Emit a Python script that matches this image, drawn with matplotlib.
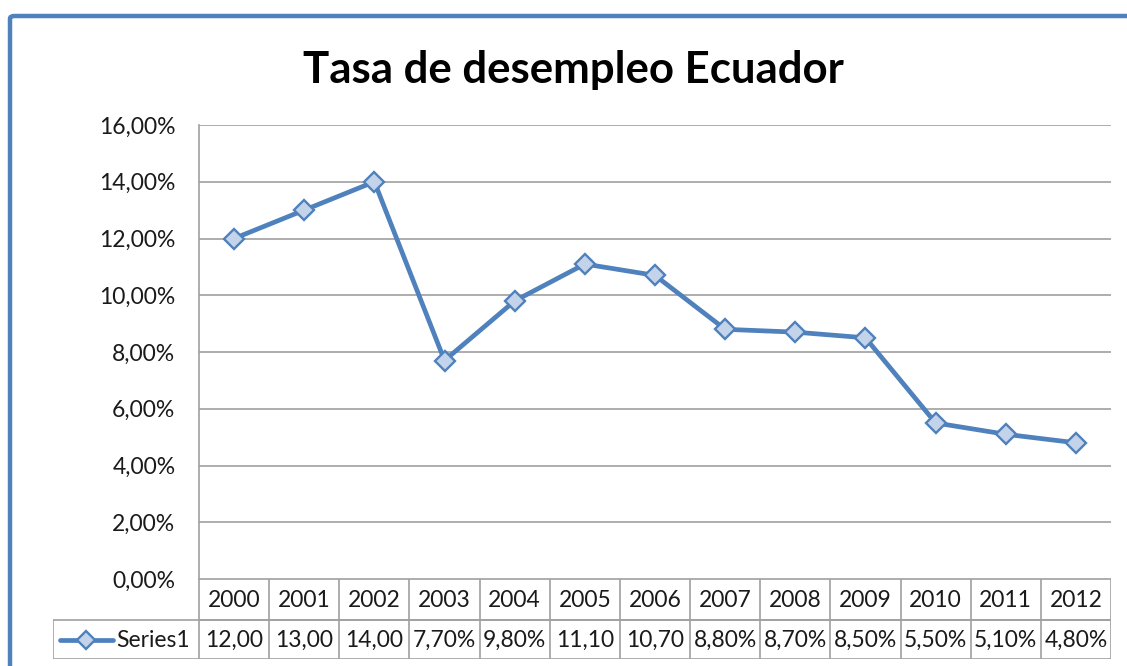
import matplotlib.pyplot as plt
import numpy as np
from matplotlib.patches import FancyBboxPatch

plt.rcParams['font.family'] = ['Lato', 'DejaVu Sans']

# unemployment rate, Ecuador (percent)
years = ['2000', '2001', '2002', '2003', '2004', '2005', '2006',
         '2007', '2008', '2009', '2010', '2011', '2012']
rate = [12.0, 13.0, 14.0, 7.7, 9.8, 11.1, 10.7, 8.8, 8.7, 8.5, 5.5, 5.1, 4.8]
series_name = 'Series1'
yticks = [0, 2, 4, 6, 8, 10, 12, 14, 16]

blue = '#4F81BD'
grid = '#A0A0A0'
txt = '#1A1A1A'
fs = 16.5
W, H = 1127, 666

fig = plt.figure(figsize=(W / 100, H / 100), dpi=100)

# blue outer frame of the chart (runs off the right and bottom edges)
frame = FancyBboxPatch((10 / W, -0.1), 1.2, (H - 16) / H + 0.1,
                       boxstyle='round,pad=0,rounding_size=0.004',
                       transform=fig.transFigure, fill=False,
                       edgecolor=blue, linewidth=3.2, zorder=0)
fig.patches.append(frame)

# plot area in pixels
px_left, px_right, px_top, px_bottom = 199, 1111, 125, 579
ax = fig.add_axes([px_left / W, 1 - px_bottom / H,
                   (px_right - px_left) / W, (px_bottom - px_top) / H])

x = np.arange(len(years))
ax.plot(x, rate, color=blue, linewidth=3.4, marker='D', markersize=10,
        markerfacecolor='#C3D3EA', markeredgecolor=blue, markeredgewidth=1.7,
        zorder=3)

ax.set_xlim(-0.5, len(years) - 0.5)
ax.set_ylim(0, 16)
ax.set_yticks(yticks)
ax.set_yticklabels([f'{v:.2f}%'.replace('.', ',') for v in yticks])
ax.yaxis.grid(True, color=grid, linewidth=1.2)
ax.set_axisbelow(True)
ax.set_xticks([])
ax.tick_params(axis='y', length=0, pad=17, labelsize=fs, labelcolor=txt)
for side in ['top', 'right', 'bottom']:
    ax.spines[side].set_visible(False)
ax.spines['left'].set_color(grid)
ax.spines['left'].set_linewidth(1.2)

fig.text(573 / W, 1 - 83 / H, 'Tasa de desempleo Ecuador', fontsize=31.5,
         fontweight='bold', ha='center', va='baseline', color='black')

# data table below the plot area
col_w = (px_right - px_left) / len(years)
tab_left, tab_top, tab_mid, tab_bottom = 53, 579, 620, 659
tax = fig.add_axes([tab_left / W, 1 - tab_bottom / H,
                    (px_right - tab_left) / W, (tab_bottom - tab_top) / H])
tax.set_xlim(-0.5 - (px_left - tab_left) / col_w, len(years) - 0.5)
tax.set_ylim(tab_bottom - tab_top, 0)
tax.axis('off')

lw = 1.2
row_mid = tab_mid - tab_top
row_end = tab_bottom - tab_top
bounds = np.arange(len(years) + 1) - 0.5
x0 = tax.get_xlim()[0]
tax.hlines([0, row_mid], -0.5, bounds[-1], color=grid, linewidth=lw)
tax.hlines([row_mid, row_end], x0, bounds[-1], color=grid, linewidth=lw)
tax.vlines(bounds, 0, row_end, color=grid, linewidth=lw)
tax.vlines([x0], row_mid, row_end, color=grid, linewidth=lw)

for i, y in enumerate(years):
    tax.text(i, row_mid / 2 + 1, y, ha='center', va='center', fontsize=fs,
             color=txt)
for i, v in enumerate(rate):
    label = f'{v:.2f}%'.replace('.', ',')
    if len(label) > 5:  # cell too narrow, Excel cuts the text
        label = label[:5]
    tax.text(i, (row_mid + row_end) / 2 + 1, label, ha='center', va='center',
             fontsize=fs, color=txt)

# legend key inside the first cell
ky = (row_mid + row_end) / 2
lx = x0 + 0.1
tax.plot([lx, lx + 0.75], [ky, ky], color=blue, linewidth=3.4,
         solid_capstyle='round')
tax.plot([lx + 0.375], [ky], marker='D', markersize=9.5, color=blue,
         markerfacecolor='#C3D3EA', markeredgewidth=1.7)
tax.text(lx + 0.8, ky + 1, series_name, ha='left', va='center', fontsize=fs,
         color=txt)

fig.savefig('out.png', dpi=100)
